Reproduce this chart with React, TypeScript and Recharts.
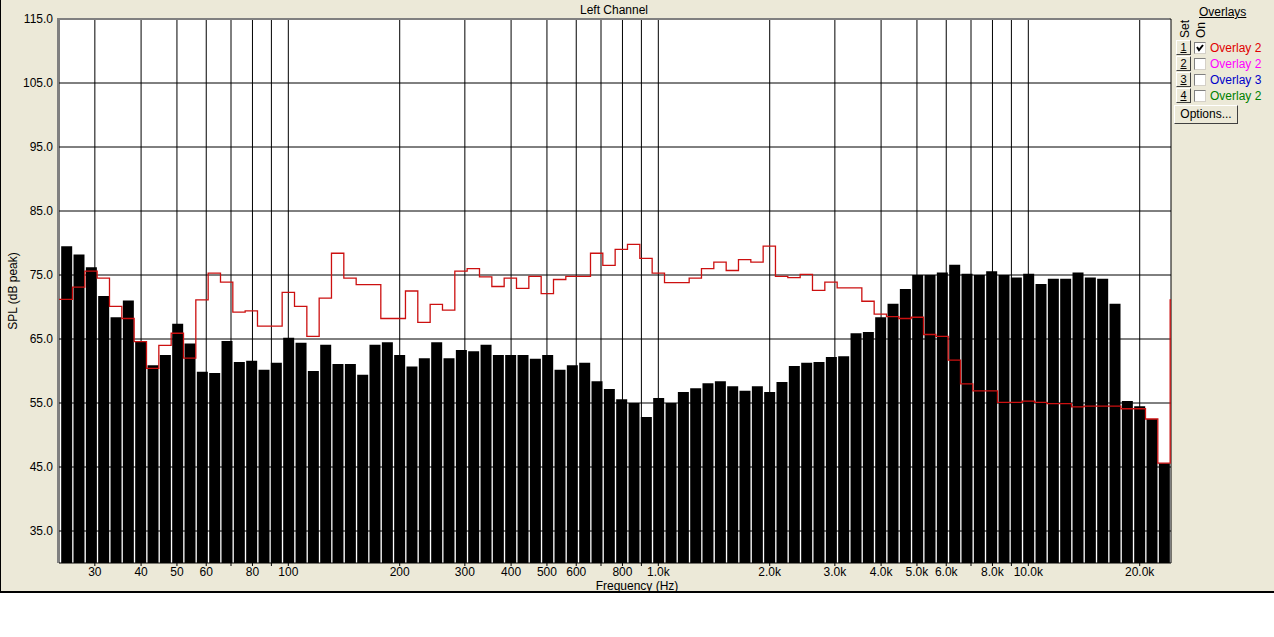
import React from 'react';
import { ComposedChart, Bar, Line, XAxis, YAxis, CartesianGrid } from 'recharts';

// Band centre frequencies (Hz). First and last entries are the neighbouring bands just outside the view.
const frequenciesHz = [
  23.26, 25.12, 27.12, 29.29, 31.62, 34.15, 36.87, 39.81, 42.99, 46.42, 50.12, 54.12, 58.43, 63.1, 68.13,
  73.56, 79.43, 85.77, 92.61, 100, 108.0, 116.6, 125.9, 135.9, 146.8, 158.5, 171.1, 184.8, 199.5, 215.4,
  232.6, 251.2, 271.2, 292.9, 316.2, 341.5, 368.7, 398.1, 429.9, 464.2, 501.2, 541.2, 584.3, 631.0, 681.3,
  735.6, 794.3, 857.7, 926.1, 1000, 1080, 1166, 1259, 1359, 1468, 1585, 1711, 1848, 1995, 2154, 2326, 2512,
  2712, 2929, 3162, 3415, 3687, 3981, 4299, 4642, 5012, 5412, 5843, 6310, 6813, 7356, 7943, 8577, 9261,
  10000, 10798, 11659, 12589, 13594, 14678, 15849, 17113, 18478, 19953, 21544, 23263, 25119,
];

// Measured SPL (dB peak) per band – black bars
const spectrumDb: (number | null)[] = [
  null,
  79.5, 78.2, 76.2, 71.7, 68.4, 71.0, 64.6, 60.9, 62.5, 67.4,
  64.3, 59.9, 59.7, 64.7, 61.4, 61.6, 60.2, 61.3, 65.2, 64.4,
  60.0, 64.1, 61.1, 61.1, 59.4, 64.1, 64.5, 62.5, 60.7, 62.0,
  64.5, 62.0, 63.3, 63.1, 64.1, 62.5, 62.5, 62.5, 61.9, 62.5,
  60.2, 60.9, 61.3, 58.4, 57.2, 55.6, 55.0, 52.8, 55.8, 55.0,
  56.7, 57.3, 58.1, 58.4, 57.6, 56.9, 57.6, 56.7, 58.3, 60.8,
  61.3, 61.4, 62.2, 62.3, 65.9, 66.1, 68.4, 70.5, 72.8, 75.0,
  75.0, 75.4, 76.6, 75.2, 75.0, 75.6, 75.0, 74.6, 75.2, 73.6,
  74.4, 74.4, 75.4, 74.6, 74.4, 70.5, 55.3, 54.5, 52.5, 45.6,
  null,
];

// Overlay 2 (red step trace)
const overlayDb = [
  71.2,
  71.2, 73.1, 75.6, 74.5, 70.1, 68.2, 64.6, 60.4, 64.0, 65.9,
  62.0, 71.1, 75.3, 73.9, 69.2, 69.4, 67.0, 67.0, 72.3, 70.1,
  65.4, 71.4, 78.4, 74.5, 73.5, 73.5, 68.2, 68.2, 72.5, 67.6,
  70.4, 69.5, 75.6, 76.0, 74.7, 73.2, 74.5, 72.9, 74.8, 72.1,
  74.3, 74.8, 74.8, 78.4, 76.5, 79.0, 79.8, 77.6, 75.3, 73.8,
  73.8, 74.5, 76.0, 77.0, 75.7, 77.4, 77.0, 79.5, 74.8, 74.6,
  75.1, 72.6, 73.9, 73.0, 73.0, 70.9, 68.9, 68.5, 68.2, 68.4,
  65.7, 65.4, 61.7, 58.0, 56.9, 56.9, 55.1, 55.1, 55.3, 55.1,
  54.9, 54.9, 54.4, 54.5, 54.5, 54.5, 54.1, 54.1, 52.5, 45.6,
  71.1,
];

const xTicks = [30, 40, 50, 60, 70, 80, 90, 100, 200, 300, 400, 500, 600, 700, 800, 900,
  1000, 2000, 3000, 4000, 5000, 6000, 7000, 8000, 9000, 10000, 20000];
const unlabeledTicks = [70, 90, 700, 900, 7000, 9000];
const yTicks = [35, 45, 55, 65, 75, 85, 95, 105, 115];

const overlaySets = [
  { set: '1', label: 'Overlay 2', color: '#e00000', on: true },
  { set: '2', label: 'Overlay 2', color: '#ff00ff', on: false },
  { set: '3', label: 'Overlay 3', color: '#0000c8', on: false },
  { set: '4', label: 'Overlay 2', color: '#008000', on: false },
];

const data = frequenciesHz.map((f, i) => ({ f, spl: spectrumDb[i], overlay: overlayDb[i] }));

const fmtX = (v: number) => {
  if (unlabeledTicks.includes(v)) return '';
  if (v >= 1000) return (v / 1000).toFixed(1) + 'k';
  return String(v);
};

const FONT = '"Liberation Sans", Arial, sans-serif';
const BEIGE = '#ECE9D8';

const raised: React.CSSProperties = {
  position: 'absolute',
  background: BEIGE,
  borderTop: '1px solid #fff',
  borderLeft: '1px solid #fff',
  borderRight: '1px solid #404040',
  borderBottom: '1px solid #404040',
  boxSizing: 'border-box',
  textAlign: 'center',
  fontSize: 12,
  color: '#000',
};

export default function App() {
  return (
    <div style={{ position: 'absolute', left: 0, top: 0, width: 1274, height: 637, background: '#fff', overflow: 'hidden', fontFamily: FONT }}>
      <div style={{ position: 'absolute', left: 0, top: 0, width: 1274, height: 593, background: BEIGE, borderLeft: '1px solid #000', borderBottom: '2px solid #000', boxSizing: 'border-box' }} />
      <div style={{ position: 'absolute', left: 59, width: 1110, top: 3, textAlign: 'center', fontSize: 12, color: '#000' }}>Left Channel</div>

      <div style={{ position: 'absolute', left: 0, top: 0 }}>
        <ComposedChart width={1274} height={592} data={data} margin={{ top: 19, right: 103, bottom: 0, left: 0 }}>
          <CartesianGrid stroke="#000" strokeWidth={1} fill="#fff" fillOpacity={1} />
          <XAxis
            dataKey="f"
            type="number"
            scale="log"
            domain={[24, 24300]}
            allowDataOverflow
            ticks={xTicks}
            interval={0}
            tickFormatter={fmtX}
            height={29}
            axisLine={false}
            tickLine={{ stroke: '#000' }}
            tickSize={3}
            tickMargin={1}
            tick={{ fontSize: 12, fill: '#000', fontFamily: FONT }}
          />
          <YAxis
            type="number"
            domain={[30, 115]}
            ticks={yTicks}
            interval={0}
            width={59}
            axisLine={false}
            tickLine={false}
            tickSize={4}
            tickMargin={2}
            tickFormatter={(v: number) => v.toFixed(1)}
            tick={{ fontSize: 12, fill: '#000', fontFamily: FONT }}
          />
          <Bar dataKey="spl" fill="#000" barSize={11} isAnimationActive={false} />
          <Line dataKey="overlay" type="step" stroke="#cc1010" strokeWidth={1.3} dot={false} activeDot={false} isAnimationActive={false} />
        </ComposedChart>
      </div>

      {/* plot frame */}
      <div style={{ position: 'absolute', left: 57, top: 18, width: 2, height: 545, background: '#808080' }} />
      <div style={{ position: 'absolute', left: 57, top: 18, width: 1112, height: 2, background: '#808080' }} />

      <div style={{ position: 'absolute', left: 13, top: 291, transform: 'translate(-50%, -50%) rotate(-90deg)', fontSize: 12, whiteSpace: 'nowrap', color: '#000' }}>SPL (dB peak)</div>
      <div style={{ position: 'absolute', left: 637, top: 579, transform: 'translateX(-50%)', fontSize: 12, whiteSpace: 'nowrap', color: '#000' }}>Frequency (Hz)</div>

      {/* overlay panel */}
      <div style={{ position: 'absolute', left: 1199, top: 5, fontSize: 12, textDecoration: 'underline', color: '#000' }}>Overlays</div>
      <div style={{ position: 'absolute', left: 1185, top: 29, transform: 'translate(-50%, -50%) rotate(-90deg)', fontSize: 12, whiteSpace: 'nowrap', color: '#000' }}>Set</div>
      <div style={{ position: 'absolute', left: 1201, top: 30, transform: 'translate(-50%, -50%) rotate(-90deg)', fontSize: 12, whiteSpace: 'nowrap', color: '#000' }}>On</div>
      {overlaySets.map((o, i) => (
        <React.Fragment key={i}>
          <div style={{ ...raised, left: 1176, top: 40 + i * 16, width: 15, height: 15, lineHeight: '13px', fontSize: 11 }}>
            <span style={{ textDecoration: 'underline' }}>{o.set}</span>
          </div>
          <div style={{ position: 'absolute', left: 1194, top: 42 + i * 16, width: 12, height: 12, background: '#fff', borderTop: '1px solid #808080', borderLeft: '1px solid #808080', borderRight: '1px solid #d4d0c8', borderBottom: '1px solid #d4d0c8', boxSizing: 'border-box' }}>
            {o.on && (
              <svg width={10} height={10} style={{ position: 'absolute', left: 0, top: 0 }}>
                <polyline points="2,4 4,7 8,2" fill="none" stroke="#000" strokeWidth={2} />
              </svg>
            )}
          </div>
          <div style={{ position: 'absolute', left: 1210, top: 41 + i * 16, fontSize: 12, color: o.color, whiteSpace: 'nowrap' }}>{o.label}</div>
        </React.Fragment>
      ))}
      <div style={{ ...raised, left: 1174, top: 105, width: 64, height: 19, lineHeight: '17px' }}>Options...</div>
    </div>
  );
}
